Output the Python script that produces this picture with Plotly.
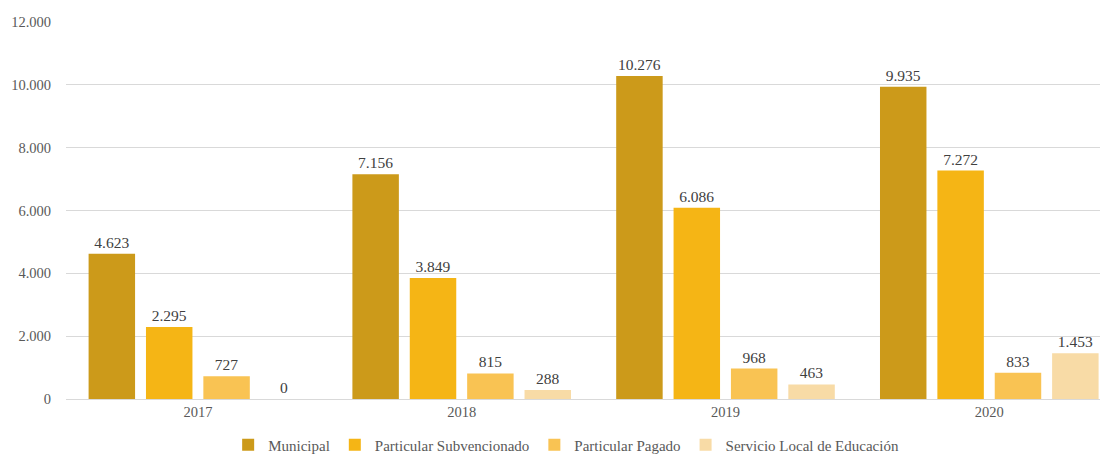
import plotly.graph_objects as go

years = ["2017", "2018", "2019", "2020"]
series_names = ["Municipal", "Particular Subvencionado", "Particular Pagado", "Servicio Local de Educación"]
municipal = [4623, 7156, 10276, 9935]
subvencionado = [2295, 3849, 6086, 7272]
pagado = [727, 815, 968, 833]
sle = [0, 288, 463, 1453]
colors = ["#CC9A1A", "#F5B515", "#F9C353", "#F8DBA6"]

values = [municipal, subvencionado, pagado, sle]
font_family = "Liberation Serif"

fig = go.Figure()
for name, vals, col in zip(series_names, values, colors):
    fig.add_trace(go.Bar(
        x=years, y=vals, name=name,
        marker=dict(color=col, line=dict(width=0)),
        texttemplate="%{y:,.0f}", textposition="outside",
        textfont=dict(family=font_family, size=15.5, color="#404040"),
        cliponaxis=False,
    ))

# the page body adds an 8px offset, so the figure is 8px smaller and margins shifted
fig.update_layout(
    width=1100, height=449,
    margin=dict(l=58, r=0, t=13, b=58, autoexpand=False),
    plot_bgcolor="white", paper_bgcolor="white",
    separators=",.",
    barmode="group", bargap=0.13, bargroupgap=0.19,
    font=dict(family=font_family, size=15, color="#595959"),
    xaxis=dict(range=[-0.5, 3.45], showgrid=False, showline=True, automargin=False,
               linecolor="#D9D9D9", linewidth=1, ticks="",
               tickfont=dict(family=font_family, size=14.5, color="#595959")),
    yaxis=dict(range=[0, 12030], tickvals=[0, 2000, 4000, 6000, 8000, 10000, 12000],
               tickformat=",.0f", automargin=False,
               showgrid=True, gridcolor="#D9D9D9", gridwidth=1,
               zeroline=False, showline=False, ticks="", ticklabelstandoff=14,
               tickfont=dict(family=font_family, size=14.5, color="#595959")),
    legend=dict(orientation="h", x=0.48, xanchor="center", y=-0.078, yanchor="top",
                font=dict(family=font_family, size=15, color="#595959"),
                itemwidth=30, traceorder="normal", tracegroupgap=0),
    showlegend=True,
)

fig.write_html("out.html")
